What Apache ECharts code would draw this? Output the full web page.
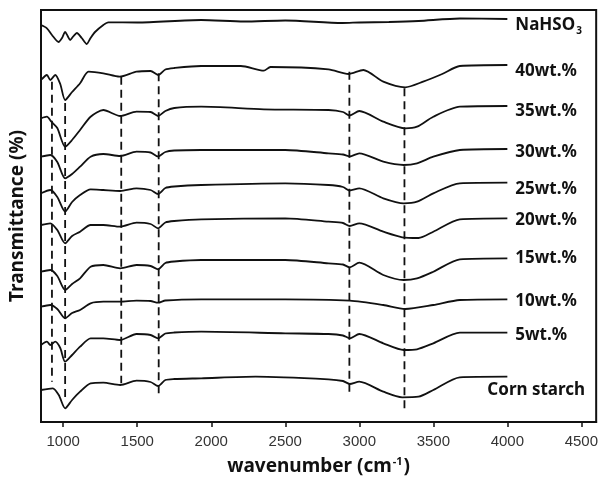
<!DOCTYPE html>
<html>
<head>
<meta charset="utf-8">
<script src="https://cdn.jsdelivr.net/npm/echarts@6/dist/echarts.min.js"></script>
<style>
  html, body { margin: 0; padding: 0; background: #fff; }
  #chart { width: 601px; height: 481px; }
</style>
</head>
<body>
<div id="chart"></div>
<script>
// spectra: [wavenumber, transmittance (a.u., offset)]
var nahso3 = [[850,397],[890,393.7],[924,387],[969,380],[992,384],[1013,390],[1030,386],[1047,382],[1070,386],[1092,389],[1125,384],[1159,378],[1185,384],[1215,390],[1271,397],[1305,399.7],[1500,399.5],[1932,402],[2221,400.5],[2500,401.5],[2886,399],[3000,399.5],[3200,400],[3400,401],[3679,403.5],[4000,403]];
var wt40 = [[850,342],[890,347],[913,342],[946,347],[980,338],[1013,322],[1060,330],[1114,338.7],[1171,350.3],[1271,348.7],[1381,345.3],[1495,350.3],[1590,351],[1641,347],[1690,352.5],[1750,354],[1932,356],[2200,356],[2355,351.3],[2400,355],[2792,352.7],[2927,348],[3027,352],[3162,340.3],[3310,334.7],[3431,340.3],[3560,348],[3679,356],[4000,357]];
var wt35 = [[850,303.7],[890,305.3],[920,300.3],[960,294],[1013,275.3],[1060,282],[1114,292],[1185,305.3],[1271,312],[1385,306],[1495,310.3],[1590,310],[1641,306],[1690,311],[1750,314],[1932,315.3],[2355,312.7],[2792,312],[2890,310],[2935,306.5],[3000,311],[3162,300.3],[3310,293.7],[3390,295.3],[3500,305.3],[3679,315.3],[4000,316]];
var wt30 = [[850,265.3],[913,267],[960,260],[1013,243.7],[1060,248],[1114,255.3],[1185,265.3],[1271,268],[1385,266],[1495,270.3],[1590,269.5],[1641,265.5],[1690,270],[1750,271.5],[1932,272],[2500,272],[2792,268.7],[2890,267.5],[2935,265.5],[3000,268.7],[3162,260.3],[3300,257],[3390,258.7],[3500,265.3],[3679,272],[4000,273]];
var wt25 = [[850,228.7],[913,232],[960,225],[1013,210.3],[1060,220],[1114,227],[1185,232.7],[1271,232],[1385,231],[1495,233.7],[1590,232],[1641,228],[1690,234],[1750,235.5],[1932,237],[2500,238.7],[2792,237],[2890,235],[2935,231.5],[3000,233.7],[3162,223.7],[3300,218.7],[3390,220.3],[3500,228.7],[3679,238.7],[4000,239.3]];
var wt20 = [[850,197],[913,198.7],[960,192],[1013,178.7],[1060,186],[1114,190.3],[1185,197],[1271,197],[1385,195.3],[1495,199.3],[1590,198],[1641,193.7],[1690,199.5],[1750,201],[1932,202.7],[2500,203.7],[2792,200.3],[2890,199],[2935,196],[3000,198.7],[3162,190.3],[3290,184.7],[3400,184],[3500,190.3],[3679,202.7],[4000,203.7]];
var wt15 = [[850,150.3],[913,152],[960,146],[1013,132],[1060,138],[1114,143.7],[1185,155.3],[1271,157],[1385,153.7],[1495,157],[1590,156],[1641,152.7],[1690,159],[1750,160.5],[1932,162],[2500,162],[2792,158.7],[2890,157.5],[2935,154.7],[3000,159.3],[3162,147],[3300,142],[3390,143.7],[3500,150.3],[3679,162.7],[4000,163.7]];
var wt10 = [[850,115.3],[913,117],[960,113],[1013,103.7],[1060,109],[1114,112],[1185,118.7],[1271,120.3],[1385,120.3],[1495,121.3],[1590,121],[1641,119.3],[1690,121.5],[1932,122.7],[2500,122.7],[2935,121.3],[3162,117],[3310,113],[3500,117],[3679,122],[4000,122.7]];
var wt5 = [[850,77],[890,80.3],[913,77],[946,80.3],[980,74],[1013,60.3],[1060,67],[1114,75.3],[1185,83.7],[1271,83.7],[1385,82],[1495,88],[1590,87],[1641,83.7],[1690,88.5],[1750,89.5],[1932,90.3],[2500,88.7],[2792,88],[2890,86.5],[2935,83.7],[3000,88],[3162,78.7],[3300,72],[3390,72.7],[3500,78.7],[3679,89.3],[4000,89.3]];
var cornStarch = [[850,32],[930,33.7],[970,27],[1013,13.7],[1060,22],[1114,30.3],[1185,38.7],[1271,39.3],[1385,37],[1495,41.3],[1590,40],[1641,36],[1690,42],[1750,43],[1932,43.7],[2300,45.3],[2792,42.7],[2890,41],[2935,38],[3000,40.3],[3162,30.3],[3290,24.7],[3400,25.3],[3500,32],[3679,44.7],[4000,45.3]];

var names = ['NaHSO3', '40wt.%', '35wt.%', '30wt.%', '25wt.%', '20wt.%', '15wt.%', '10wt.%', '5wt.%', 'Corn starch'];
var spectra = [nahso3, wt40, wt35, wt30, wt25, wt20, wt15, wt10, wt5, cornStarch];

// dashed guide lines: peak position, top and bottom of the line
var peaks = [924, 1013, 1392, 1645, 2933, 3305];
var peakTop = [340.3, 319, 345.3, 348.7, 350.3, 333.7];
var peakBottom = [40.3, 22, 38.7, 28.7, 28.7, 12];

var xTicks = [1000, 1500, 2000, 2500, 3000, 3500, 4000, 4500];

// label nudges (px) for the names at the line ends
var labelOffset = [[0, 6], [0, 6], [0, 5], [0, 3], [0, 6], [0, 2], [0, 0], [0, 2], [0, 2], [-28, 13]];

var myChart = echarts.init(document.getElementById('chart'));

var series = [];
spectra.forEach(function (d, i) {
	series.push({
		name: names[i],
		type: 'line',
		data: d,
		smooth: 0.25,
		symbol: 'none',
		lineStyle: { color: '#111', width: 1.8 },
		endLabel: {
			show: true,
			distance: 8,
			offset: labelOffset[i],
			formatter: i === 0 ? '{a|NaHSO}{b|3}' : names[i],
			fontFamily: 'Noto Sans',
			fontSize: 17,
			fontWeight: 'bold',
			color: '#111',
			rich: {
				a: { fontFamily: 'Noto Sans', fontSize: 17, fontWeight: 'bold', color: '#111' },
				b: { fontFamily: 'Noto Sans', fontSize: 10, fontWeight: 'bold', color: '#111', padding: [12, 0, 0, 1] }
			}
		}
	});
});

peaks.forEach(function (p, i) {
	series.push({
		type: 'line',
		data: [[p, peakTop[i]], [p, peakBottom[i]]],
		symbol: 'none',
		silent: true,
		lineStyle: { color: '#111', width: 1.8, type: [8, 5] }
	});
});

var option = {
	animation: false,
	backgroundColor: '#fff',
	grid: {
		left: 39,
		right: 4,
		top: 10,
		bottom: 59,
		show: true,
		borderColor: '#111',
		borderWidth: 2
	},
	xAxis: {
		type: 'value',
		min: 850,
		max: 4600,
		name: '{t|wavenumber (cm}{s|-1}{t|)}',
		nameLocation: 'middle',
		nameGap: 34,
		nameTextStyle: {
			rich: {
				t: { fontFamily: 'Noto Sans', fontSize: 19, fontWeight: 'bold', color: '#111' },
				s: { fontFamily: 'Noto Sans', fontSize: 11, fontWeight: 'bold', color: '#111', padding: [0, 1, 10, 1] }
			}
		},
		axisLine: { lineStyle: { color: '#111', width: 2 } },
		axisTick: { show: true, length: 5, customValues: xTicks, lineStyle: { color: '#111', width: 1.5 } },
		axisLabel: {
			customValues: xTicks,
			formatter: function (v) { return String(v); },
			margin: 12,
			fontFamily: 'Liberation Sans',
			fontSize: 15,
			color: '#333'
		},
		splitLine: { show: false }
	},
	yAxis: {
		type: 'value',
		min: 0,
		max: 412,
		name: 'Transmittance (%)',
		nameLocation: 'middle',
		nameGap: 14,
		nameTextStyle: { fontFamily: 'Noto Sans', fontSize: 19, fontWeight: 'bold', color: '#111' },
		axisLine: { show: true, lineStyle: { color: '#111', width: 2 } },
		axisTick: { show: false },
		axisLabel: { show: false },
		splitLine: { show: false }
	},
	series: series
};

myChart.setOption(option);
</script>
</body>
</html>
